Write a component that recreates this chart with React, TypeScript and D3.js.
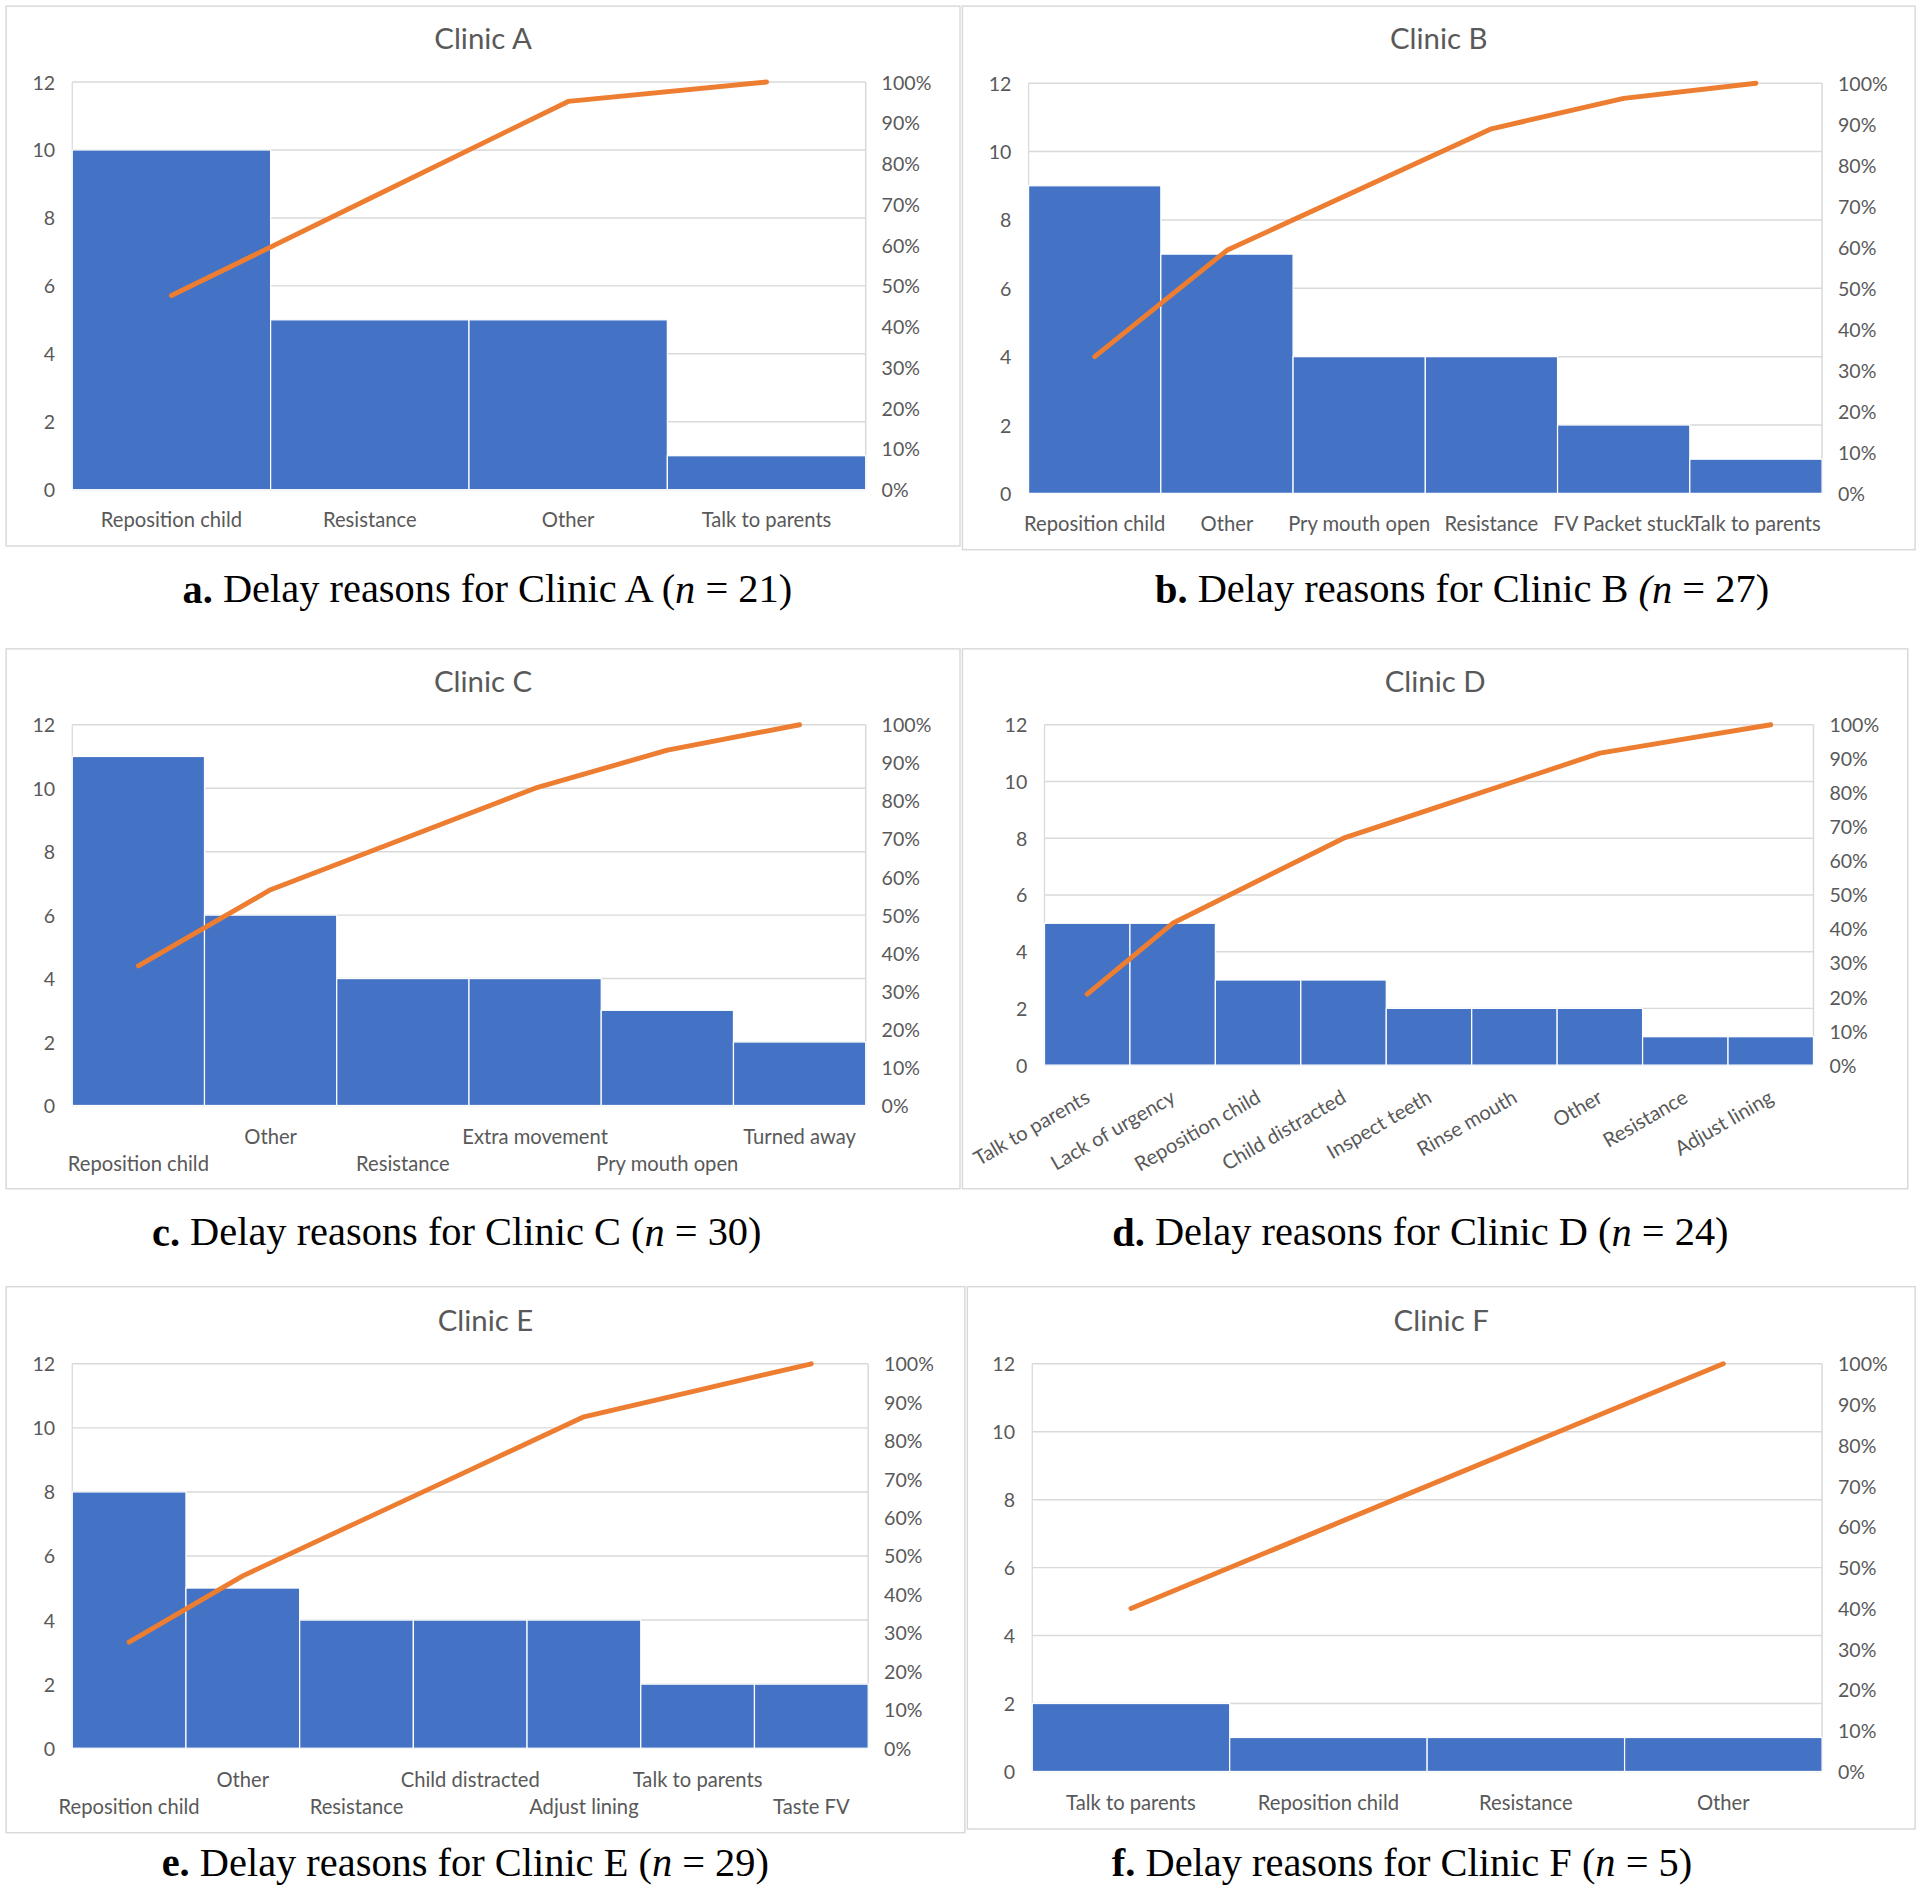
import React from 'react';
import * as d3 from 'd3';

// counts per delay reason, one pair of arrays per clinic
const clinicACategories = ['Reposition child', 'Resistance', 'Other', 'Talk to parents'];
const clinicACounts = [10, 5, 5, 1];

const clinicBCategories = ['Reposition child', 'Other', 'Pry mouth open', 'Resistance', 'FV Packet stuck', 'Talk to parents'];
const clinicBCounts = [9, 7, 4, 4, 2, 1];

const clinicCCategories = ['Reposition child', 'Other', 'Resistance', 'Extra movement', 'Pry mouth open', 'Turned away'];
const clinicCCounts = [11, 6, 4, 4, 3, 2];

const clinicDCategories = [
  'Talk to parents',
  'Lack of urgency',
  'Reposition child',
  'Child distracted',
  'Inspect teeth',
  'Rinse mouth',
  'Other',
  'Resistance',
  'Adjust lining',
];
const clinicDCounts = [5, 5, 3, 3, 2, 2, 2, 1, 1];

const clinicECategories = ['Reposition child', 'Other', 'Resistance', 'Child distracted', 'Adjust lining', 'Talk to parents', 'Taste FV'];
const clinicECounts = [8, 5, 4, 4, 4, 2, 2];

const clinicFCategories = ['Talk to parents', 'Reposition child', 'Resistance', 'Other'];
const clinicFCounts = [2, 1, 1, 1];

const countTicks = [0, 2, 4, 6, 8, 10, 12];
const percentTicks = [0, 10, 20, 30, 40, 50, 60, 70, 80, 90, 100];

const BLUE = '#4472C4';
const ORANGE = '#ED7D31';
const GRID = '#D9D9D9';
const TEXT = '#595959';
const FONT = 'Lato, "Open Sans", sans-serif';

type LabelMode = 'single' | 'stagger' | 'rotate';

interface PanelProps {
  letter: string;
  clinic: string;
  categories: string[];
  counts: number[];
  frame: [number, number, number, number];
  plot: [number, number, number, number];
  titleY: number;
  labelY: number;
  labelY2?: number;
  mode: LabelMode;
  captionX: number;
  captionY: number;
  italicParen?: boolean;
}

const Panel: React.FC<PanelProps> = (p) => {
  const [px0, py0, px1, py1] = p.plot;
  const x = d3.scaleBand<string>().domain(p.categories).range([px0, px1]).padding(0);
  const y = d3.scaleLinear().domain([0, 12]).range([py1, py0]);
  const yPct = d3.scaleLinear().domain([0, 100]).range([py1, py0]);

  const total = d3.sum(p.counts);
  const cum = Array.from(d3.cumsum(p.counts)).map((v) => (v / total) * 100);
  const line = d3
    .line<number>()
    .x((_, i) => x(p.categories[i])! + x.bandwidth() / 2)
    .y((d) => yPct(d));

  const [fx0, fy0, fx1, fy1] = p.frame;
  const titleX = (fx0 + fx1) / 2;

  return (
    <g>
      <rect x={fx0} y={fy0} width={fx1 - fx0} height={fy1 - fy0} fill="white" stroke={GRID} strokeWidth={1.2} />
      <text x={titleX} y={p.titleY} textAnchor="middle" dominantBaseline="central" fontSize={24} fill={TEXT} fontFamily={FONT}>
        {p.clinic}
      </text>

      {/* grid */}
      {countTicks.map((t) => (
        <line key={t} x1={px0} x2={px1} y1={y(t)} y2={y(t)} stroke={GRID} strokeWidth={1.2} />
      ))}
      <line x1={px0} x2={px0} y1={py0} y2={py1} stroke={GRID} strokeWidth={1} />
      <line x1={px1} x2={px1} y1={py0} y2={py1} stroke={GRID} strokeWidth={1.2} />

      {/* bars */}
      {p.counts.map((c, i) => (
        <rect
          key={i}
          x={x(p.categories[i])!}
          y={y(c)}
          width={x.bandwidth()}
          height={y(0) - y(c)}
          fill={BLUE}
          stroke="white"
          strokeWidth={1}
        />
      ))}

      {/* cumulative line */}
      <path d={line(cum)!} fill="none" stroke={ORANGE} strokeWidth={4} strokeLinecap="round" strokeLinejoin="round" />

      {/* left axis */}
      {countTicks.map((t) => (
        <text key={t} x={px0 - 14} y={y(t)} textAnchor="end" dominantBaseline="central" fontSize={16} fill={TEXT} fontFamily={FONT}>
          {t}
        </text>
      ))}
      {/* right axis */}
      {percentTicks.map((t) => (
        <text key={t} x={px1 + 13} y={yPct(t)} textAnchor="start" dominantBaseline="central" fontSize={16} fill={TEXT} fontFamily={FONT}>
          {t}%
        </text>
      ))}

      {/* category labels */}
      {p.categories.map((c, i) => {
        const cx = x(c)! + x.bandwidth() / 2;
        if (p.mode === 'rotate') {
          return (
            <text
              key={c}
              transform={`translate(${cx},${py1 + 24}) rotate(-30)`}
              textAnchor="end"
              dominantBaseline="central"
              fontSize={16.5}
              fill={TEXT}
              fontFamily={FONT}
            >
              {c}
            </text>
          );
        }
        const ly = p.mode === 'stagger' && i % 2 === 0 ? p.labelY2! : p.labelY;
        return (
          <text key={c} x={cx} y={ly} textAnchor="middle" dominantBaseline="central" fontSize={16.5} fill={TEXT} fontFamily={FONT}>
            {c}
          </text>
        );
      })}

      {/* caption */}
      <text
        x={p.captionX}
        y={p.captionY}
        textAnchor="middle"
        dominantBaseline="central"
        fontSize={33}
        fill="#000"
        fontFamily='"Liberation Serif", "Times New Roman", serif'
      >
        <tspan fontWeight="bold">{p.letter}.</tspan> Delay reasons for Clinic {p.clinic.slice(-1)}{' '}
        {p.italicParen ? (
          <tspan fontStyle="italic">(n</tspan>
        ) : (
          <>
            (<tspan fontStyle="italic">n</tspan>
          </>
        )}{' '}
        = {total})
      </text>
    </g>
  );
};

export default function App() {
  return (
    <div style={{ position: 'absolute', left: 0, top: 0, width: 1920, height: 1889, background: 'white' }}>
      <svg width={1920} height={1889} viewBox="0 0 1568 1543" preserveAspectRatio="none">
        <rect x={0} y={0} width={1568} height={1543} fill="white" />
        <Panel
          letter="a"
          clinic="Clinic A"
          categories={clinicACategories}
          counts={clinicACounts}
          frame={[5, 5, 784, 446]}
          plot={[59, 67, 707, 400]}
          titleY={31}
          labelY={424}
          mode="single"
          captionX={398}
          captionY={481}
        />
        <Panel
          letter="b"
          clinic="Clinic B"
          categories={clinicBCategories}
          counts={clinicBCounts}
          frame={[786, 5, 1564, 449]}
          plot={[840, 68, 1488, 403]}
          titleY={31}
          labelY={427}
          mode="single"
          captionX={1194}
          captionY={481}
          italicParen
        />
        <Panel
          letter="c"
          clinic="Clinic C"
          categories={clinicCCategories}
          counts={clinicCCounts}
          frame={[5, 530, 784, 971]}
          plot={[59, 592, 707, 903]}
          titleY={556}
          labelY={928}
          labelY2={950}
          mode="stagger"
          captionX={373}
          captionY={1006}
        />
        <Panel
          letter="d"
          clinic="Clinic D"
          categories={clinicDCategories}
          counts={clinicDCounts}
          frame={[786, 530, 1558, 971]}
          plot={[853, 592, 1481, 870]}
          titleY={556}
          labelY={895}
          mode="rotate"
          captionX={1160}
          captionY={1006}
        />
        <Panel
          letter="e"
          clinic="Clinic E"
          categories={clinicECategories}
          counts={clinicECounts}
          frame={[5, 1051, 788, 1497]}
          plot={[59, 1114, 709, 1428]}
          titleY={1078}
          labelY={1453}
          labelY2={1475}
          mode="stagger"
          captionX={380}
          captionY={1521}
        />
        <Panel
          letter="f"
          clinic="Clinic F"
          categories={clinicFCategories}
          counts={clinicFCounts}
          frame={[790, 1051, 1564, 1494]}
          plot={[843, 1114, 1488, 1447]}
          titleY={1078}
          labelY={1472}
          mode="single"
          captionX={1145}
          captionY={1521}
        />
      </svg>
    </div>
  );
}
